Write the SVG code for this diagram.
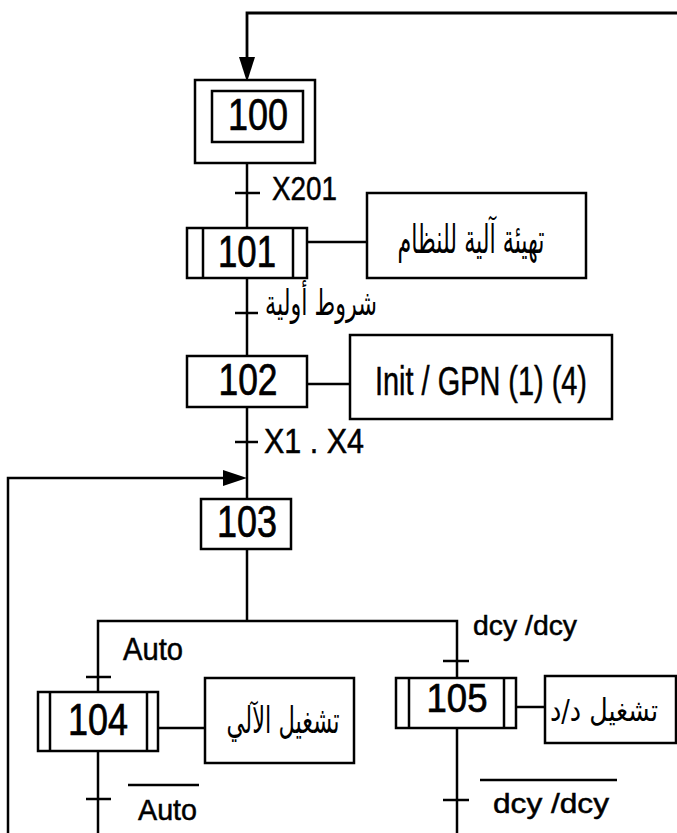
<svg xmlns="http://www.w3.org/2000/svg" width="677" height="833" viewBox="0 0 677 833">
<style>
.ln{fill:none;stroke:#000;stroke-width:2.5;}
.bx{fill:#fff;stroke:#000;stroke-width:2.5;}
.num{font-family:"Liberation Sans",Arial,sans-serif;font-size:44px;fill:#000;stroke:#000;stroke-width:0.7;text-anchor:middle;}
.lbl{font-family:"Liberation Sans",Arial,sans-serif;font-size:33px;fill:#000;stroke:#000;stroke-width:0.5;}
.ar{font-family:"DejaVu Sans","Noto Sans",sans-serif;font-size:40px;fill:#000;text-anchor:middle;}
</style>
<rect width="677" height="833" fill="#fff"/>
<g id="connectors">
<polyline class="ln" points="677,13 247,13 247,60" style="stroke-width:2.8"/>
<polygon points="239,57 255,57 247,82" fill="#000"/>
<line class="ln" x1="247" y1="163" x2="247" y2="228"/>
<line class="ln" x1="235" y1="193" x2="260" y2="193"/>
<line class="ln" x1="247" y1="278" x2="247" y2="356"/>
<line class="ln" x1="235" y1="313" x2="258" y2="313"/>
<line class="ln" x1="247" y1="407" x2="247" y2="499"/>
<line class="ln" x1="235" y1="442" x2="258" y2="442"/>
<polyline class="ln" points="8,833 8,478 226,478"/>
<polygon points="223,470 223,486 247,478" fill="#000"/>
<line class="ln" x1="247" y1="549" x2="247" y2="621"/>
<polyline class="ln" points="98,692 98,621 457,621 457,678"/>
<line class="ln" x1="86" y1="677" x2="111" y2="677"/>
<line class="ln" x1="443" y1="661" x2="469" y2="661"/>
<line class="ln" x1="98" y1="751" x2="98" y2="833"/>
<line class="ln" x1="86" y1="799" x2="111" y2="799"/>
<line class="ln" x1="457" y1="728" x2="457" y2="833"/>
<line class="ln" x1="443" y1="800" x2="469" y2="800"/>
<line class="ln" x1="307" y1="242" x2="367" y2="242"/>
<line class="ln" x1="307" y1="384" x2="350" y2="384"/>
<line class="ln" x1="158" y1="728" x2="205" y2="728"/>
<line class="ln" x1="516" y1="707" x2="545" y2="707"/>
<line class="ln" x1="128" y1="785" x2="199" y2="785"/>
<line class="ln" x1="480" y1="780" x2="617" y2="780"/>
</g>
<g id="step100">
<rect class="bx" x="195" y="80" width="120" height="83"/>
<rect class="bx" x="212" y="91" width="91" height="51"/>
<text class="num" x="258" y="130" textLength="60" lengthAdjust="spacingAndGlyphs">100</text>
</g>
<g id="t100"><text class="lbl" x="272" y="200" textLength="65" lengthAdjust="spacingAndGlyphs">X201</text></g>
<g id="step101">
<rect class="bx" x="187" y="228" width="120" height="50"/>
<line class="ln" x1="203" y1="228" x2="203" y2="278"/>
<line class="ln" x1="293" y1="228" x2="293" y2="278"/>
<text class="num" x="247" y="267" textLength="58" lengthAdjust="spacingAndGlyphs">101</text>
</g>
<g id="action101">
<rect class="bx" x="367" y="193" width="219" height="85"/>
<text class="ar" x="471" y="253" textLength="147" lengthAdjust="spacingAndGlyphs">تهيئة آلية للنظام</text>
</g>
<g id="t101"><text class="ar" x="321" y="315" textLength="112" lengthAdjust="spacingAndGlyphs" style="font-size:35px">شروط أولية</text></g>
<g id="step102">
<rect class="bx" x="187" y="356" width="120" height="51"/>
<text class="num" x="248" y="395" textLength="59" lengthAdjust="spacingAndGlyphs">102</text>
</g>
<g id="action102">
<rect class="bx" x="350" y="335" width="262" height="84"/>
<text class="lbl" x="375" y="395" textLength="212" lengthAdjust="spacingAndGlyphs" style="font-size:40px">Init / GPN (1) (4)</text>
</g>
<g id="t102"><text class="lbl" x="264" y="453" textLength="100" lengthAdjust="spacingAndGlyphs" style="font-size:35px">X1 . X4</text></g>
<g id="step103">
<rect class="bx" x="201" y="499" width="90" height="50"/>
<text class="num" x="247" y="537" textLength="60" lengthAdjust="spacingAndGlyphs">103</text>
</g>
<g id="t103a"><text class="lbl" x="123" y="660" textLength="60" lengthAdjust="spacingAndGlyphs" style="font-size:31px">Auto</text></g>
<g id="t103b"><text class="lbl" x="473" y="635" textLength="104" lengthAdjust="spacingAndGlyphs" style="font-size:28px">dcy /dcy</text></g>
<g id="step104">
<rect class="bx" x="38" y="692" width="120" height="59"/>
<line class="ln" x1="50" y1="692" x2="50" y2="751"/>
<line class="ln" x1="147" y1="692" x2="147" y2="751"/>
<text class="num" x="98" y="735" textLength="60" lengthAdjust="spacingAndGlyphs">104</text>
</g>
<g id="action104">
<rect class="bx" x="205" y="678" width="149" height="85"/>
<text class="ar" x="283" y="733" textLength="113" lengthAdjust="spacingAndGlyphs" style="font-size:37px">تشغيل الآلي</text>
</g>
<g id="t104"><text class="lbl" x="138" y="820" textLength="59" lengthAdjust="spacingAndGlyphs" style="font-size:30px">Auto</text></g>
<g id="step105">
<rect class="bx" x="396" y="678" width="120" height="50"/>
<line class="ln" x1="409" y1="678" x2="409" y2="728"/>
<line class="ln" x1="504" y1="678" x2="504" y2="728"/>
<text class="num" x="457" y="712" textLength="61" lengthAdjust="spacingAndGlyphs" style="font-size:41px">105</text>
</g>
<g id="action105">
<rect class="bx" x="545" y="676" width="131" height="67"/>
<text class="ar" x="604" y="721" textLength="108" lengthAdjust="spacingAndGlyphs" style="font-size:31px">تشغيل د/د</text>
</g>
<g id="t105"><text class="lbl" x="493" y="813" textLength="116" lengthAdjust="spacingAndGlyphs" style="font-size:28px">dcy /dcy</text></g>
</svg>
